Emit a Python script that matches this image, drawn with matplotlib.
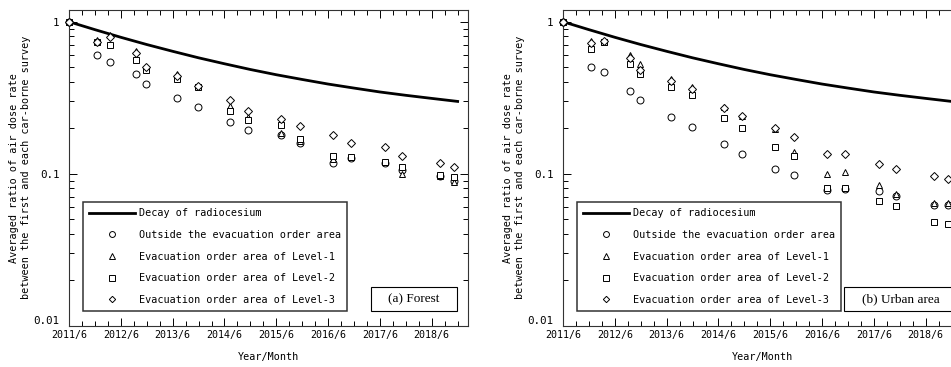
import matplotlib
matplotlib.use("Agg")
import matplotlib.pyplot as plt
from matplotlib.lines import Line2D
from matplotlib.patches import Rectangle
from matplotlib.ticker import FixedLocator, NullFormatter, LogLocator

# months after 2011/6 for each car-borne survey
survey_months = [0, 6.5, 9.6, 15.4, 17.8, 25.1, 29.8, 37.2, 41.5, 49.2, 53.6,
                 61.2, 65.2, 73.1, 77.2, 86.0, 89.2]

# decay of radiocesium
decay_months = [0, 6, 12, 18, 24, 30, 36, 42, 48, 54, 60, 66, 72, 78, 84, 90]
decay_ratio = [1.0, 0.887, 0.790, 0.708, 0.639, 0.579, 0.529, 0.485, 0.448,
               0.417, 0.389, 0.366, 0.345, 0.328, 0.313, 0.299]

# (a) Forest
forest_outside = [1, 0.60, 0.54, 0.45, 0.39, 0.316, 0.276, 0.218, 0.195, 0.18,
                  0.16, 0.118, 0.126, 0.118, 0.105, 0.096, 0.09]
forest_lv1 = [1, 0.76, 0.82, 0.64, 0.50, 0.45, 0.38, 0.28, 0.235, 0.185,
              0.165, 0.125, 0.128, 0.119, 0.10, 0.097, 0.088]
forest_lv2 = [1, 0.74, 0.70, 0.56, 0.48, 0.42, 0.37, 0.26, 0.225, 0.21,
              0.17, 0.13, 0.128, 0.12, 0.11, 0.098, 0.095]
forest_lv3 = [1, 0.74, 0.79, 0.62, 0.50, 0.44, 0.38, 0.305, 0.258, 0.229,
              0.207, 0.179, 0.159, 0.149, 0.13, 0.118, 0.111]

# (b) Urban area
urban_outside = [1, 0.506, 0.47, 0.35, 0.307, 0.235, 0.204, 0.157, 0.135,
                 0.108, 0.098, 0.078, 0.079, 0.077, 0.071, 0.062, 0.062]
urban_lv1 = [1, 0.75, 0.74, 0.60, 0.53, 0.42, 0.37, 0.275, 0.238, 0.197,
             0.14, 0.10, 0.103, 0.084, 0.073, 0.064, 0.064]
urban_lv2 = [1, 0.66, 0.74, 0.53, 0.45, 0.37, 0.33, 0.234, 0.20, 0.149,
             0.13, 0.08, 0.08, 0.066, 0.061, 0.048, 0.047]
urban_lv3 = [1, 0.72, 0.75, 0.58, 0.48, 0.41, 0.36, 0.27, 0.24, 0.20,
             0.175, 0.135, 0.135, 0.116, 0.108, 0.096, 0.093]

year_ticks = [0, 12, 24, 36, 48, 60, 72, 84]
year_labels = ["2011/6", "2012/6", "2013/6", "2014/6", "2015/6", "2016/6",
               "2017/6", "2018/6"]

legend_labels = ["Decay of radiocesium", "Outside the evacuation order area",
                 "Evacuation order area of Level-1", "Evacuation order area of Level-2",
                 "Evacuation order area of Level-3"]

MONO = "DejaVu Sans Mono"
SERIF = "Liberation Serif"

fig = plt.figure(figsize=(9.51, 3.67), dpi=100)
W, H = 951, 367


def make_axes(x0px):
    ax = fig.add_axes([x0px / W, (H - 325.7) / H, 399 / W, 316 / H])
    return ax


def draw_panel(ax, series, title, box_x):
    ax.plot(decay_months, decay_ratio, color="black", lw=2.0, zorder=3)
    markers = ["o", "^", "s", "D"]
    sizes = [5.0, 5.0, 5.0, 3.8]
    for vals, m, s in zip(series, markers, sizes):
        ax.plot(survey_months, vals, ls="none", marker=m, ms=s, mfc="white",
                mec="black", mew=0.7, zorder=4, clip_on=False)

    ax.set_yscale("log")
    ax.set_ylim(0.01, 1.2)
    ax.set_xlim(0, 92.4)

    ax.set_xticks(year_ticks)
    ax.set_xticklabels(year_labels, fontfamily=MONO, fontsize=7.2)
    ax.xaxis.set_minor_locator(FixedLocator([m for m in range(0, 93, 3) if m % 12]))
    ax.yaxis.set_major_locator(FixedLocator([0.01, 0.1, 1]))
    ax.set_yticklabels(["0.01", "0.1", "1"], fontfamily=MONO, fontsize=7.8)
    ax.yaxis.set_minor_locator(LogLocator(base=10, subs=range(2, 10)))
    ax.yaxis.set_minor_formatter(NullFormatter())
    ax.tick_params(which="both", direction="in", top=True, right=True, width=0.7)
    ax.tick_params(which="major", length=6)
    ax.tick_params(which="minor", length=3.5)
    ax.tick_params(axis="x", which="major", pad=3)
    ax.tick_params(axis="y", which="major", pad=7)
    # lift the bottom y label a little so it clears 2011/6
    ax.get_yticklabels()[0].set_va("bottom")
    for sp in ax.spines.values():
        sp.set_linewidth(0.8)
        sp.set_color("#333333")

    ax.set_xlabel("Year/Month", fontfamily=MONO, fontsize=7.3, labelpad=9)
    ax.set_ylabel("Averaged ratio of air dose rate\nbetween the first and each car-borne survey",
                  fontfamily=MONO, fontsize=7.3, linespacing=1.2)
    ax.yaxis.set_label_coords(-0.095, 0.5)

    handles = [Line2D([], [], color="black", lw=2.0)]
    for m, s in zip(markers, sizes):
        handles.append(Line2D([], [], ls="none", marker=m, ms=s * 0.85, mfc="white",
                              mec="black", mew=0.7))
    leg = ax.legend(handles, legend_labels, loc="lower left",
                    bbox_to_anchor=(0.035, 0.0465), prop={"family": MONO, "size": 7.3},
                    frameon=True, fancybox=False, borderaxespad=0, handlelength=4.5,
                    handletextpad=0.4, labelspacing=1.15, borderpad=0.6)
    leg.get_frame().set_edgecolor("black")
    leg.get_frame().set_linewidth(1.1)
    leg.set_zorder(6)

    rect = Rectangle((box_x[0], 0.0465), box_x[1] - box_x[0], 0.076,
                     transform=ax.transAxes, fc="white", ec="black", lw=0.8, zorder=5)
    ax.add_patch(rect)
    ax.text((box_x[0] + box_x[1]) / 2, 0.0845, title, transform=ax.transAxes,
            ha="center", va="center", fontfamily=SERIF, fontsize=9.5, zorder=6)


ax1 = make_axes(69)
draw_panel(ax1, [forest_outside, forest_lv1, forest_lv2, forest_lv3],
           "(a) Forest", (0.757, 0.972))

ax2 = make_axes(563)
draw_panel(ax2, [urban_outside, urban_lv1, urban_lv2, urban_lv3],
           "(b) Urban area", (0.704, 0.99))

fig.savefig("out.png", dpi=100)
